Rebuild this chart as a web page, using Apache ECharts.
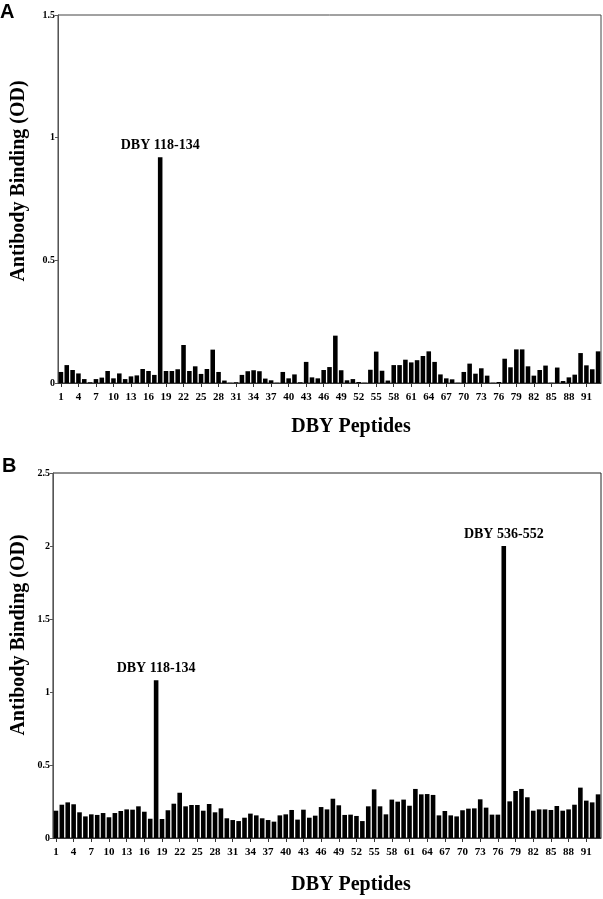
<!DOCTYPE html>
<html>
<head>
<meta charset="utf-8">
<script src="https://cdn.jsdelivr.net/npm/echarts@6/dist/echarts.min.js"></script>
<style>
html,body{margin:0;padding:0;background:#fff;}
#chart{width:603px;height:899px;}
</style>
</head>
<body>
<div id="chart"></div>
<script>
// Peptide numbers 1..93
var categories = [];
for (var i = 1; i <= 93; i++) categories.push(String(i));

// Panel A values (OD)
var valuesA = [
  0.045,0.073,0.053,0.039,0.016,0.003,0.016,0.022,0.049,0.019,
  0.039,0.016,0.027,0.031,0.057,0.049,0.033,0.92,0.049,0.049,
  0.056,0.155,0.049,0.068,0.037,0.057,0.136,0.045,0.010,0.001,
  0.003,0.033,0.048,0.052,0.048,0.018,0.011,0.001,0.045,0.019,
  0.035,0.003,0.086,0.023,0.019,0.053,0.065,0.193,0.052,0.011,
  0.016,0.004,0.001,0.054,0.128,0.050,0.010,0.073,0.073,0.095,
  0.084,0.093,0.110,0.129,0.086,0.035,0.019,0.015,0.001,0.045,
  0.079,0.038,0.060,0.030,0.001,0.004,0.099,0.064,0.137,0.137,
  0.068,0.030,0.053,0.071,0.001,0.063,0.008,0.023,0.034,0.122,
  0.072,0.056,0.129
];

// Panel B values (OD)
var valuesB = [
  0.187,0.228,0.244,0.231,0.176,0.148,0.162,0.158,0.171,0.142,
  0.171,0.185,0.196,0.194,0.217,0.180,0.132,1.08,0.130,0.190,
  0.235,0.310,0.217,0.226,0.226,0.187,0.233,0.176,0.203,0.135,
  0.123,0.116,0.139,0.167,0.155,0.135,0.123,0.112,0.155,0.162,
  0.192,0.126,0.194,0.139,0.153,0.212,0.196,0.269,0.224,0.158,
  0.160,0.151,0.116,0.217,0.333,0.217,0.162,0.263,0.249,0.263,
  0.221,0.336,0.299,0.301,0.295,0.155,0.185,0.155,0.148,0.190,
  0.201,0.203,0.265,0.208,0.160,0.160,2.00,0.251,0.322,0.336,
  0.279,0.187,0.196,0.196,0.192,0.219,0.187,0.196,0.228,0.345,
  0.256,0.244,0.299
];

// Y-axis settings
var yMaxA = 1.5, yMaxB = 2.5, yStep = 0.5;

// Annotated peptides (peptide number, label)
var notesA = [{peptide: '18', text: 'DBY 118-134'}];
var notesB = [{peptide: '18', text: 'DBY 118-134'}, {peptide: '77', text: 'DBY 536-552'}];

var serif = '"Liberation Serif","DejaVu Serif",serif';
var sans = '"Liberation Sans",Arial,sans-serif';

function buildData(vals, notes) {
  return vals.map(function (v, i) {
    var note = notes.filter(function (n) { return n.peptide === categories[i]; })[0];
    if (!note) return v;
    return {
      value: v,
      label: {
        show: true, position: 'top', distance: 5,
        formatter: note.text,
        fontFamily: serif, fontWeight: 'bold', fontSize: 14, color: '#000'
      }
    };
  });
}

function xAxisCfg(gi) {
  return {
    type: 'category', gridIndex: gi, data: categories,
    axisLine: {show: true, lineStyle: {color: '#333', width: 1}},
    axisTick: {show: true, interval: 2, alignWithLabel: true, length: 4, lineStyle: {color: '#333'}},
    axisLabel: {interval: 2, fontFamily: serif, fontWeight: 'bold', fontSize: 11, color: '#000', margin: 9},
    splitLine: {show: false}
  };
}
function yAxisCfg(gi, max) {
  return {
    type: 'value', gridIndex: gi, min: 0, max: max, interval: yStep,
    axisLine: {show: true, lineStyle: {color: '#555', width: 1}},
    axisTick: {show: true, length: 3, lineStyle: {color: '#555'}},
    axisLabel: {fontFamily: serif, fontWeight: 'bold', fontSize: 10, color: '#000', margin: 3,
      formatter: function (v) { return String(v); }},
    splitLine: {show: false}
  };
}

var chart = echarts.init(document.getElementById('chart'));
chart.setOption({
  animation: false,
  backgroundColor: '#fff',
  grid: [
    {left: 58, top: 15, width: 543, height: 368, show: true, borderColor: '#444', borderWidth: 1},
    {left: 53, top: 473, width: 548, height: 365, show: true, borderColor: '#222', borderWidth: 1}
  ],
  xAxis: [xAxisCfg(0), xAxisCfg(1)],
  yAxis: [yAxisCfg(0, yMaxA), yAxisCfg(1, yMaxB)],
  series: [
    {type: 'bar', xAxisIndex: 0, yAxisIndex: 0, data: buildData(valuesA, notesA),
     itemStyle: {color: '#000'}, barCategoryGap: '22%'},
    {type: 'bar', xAxisIndex: 1, yAxisIndex: 1, data: buildData(valuesB, notesB),
     itemStyle: {color: '#000'}, barCategoryGap: '22%'}
  ],
  graphic: [
    {type: 'text', x: 0, y: 12, style: {text: 'A', fontFamily: sans, fontWeight: 'bold', fontSize: 20, fill: '#000', textAlign: 'left', textVerticalAlign: 'middle'}},
    {type: 'text', x: 2, y: 466, style: {text: 'B', fontFamily: sans, fontWeight: 'bold', fontSize: 20, fill: '#000', textAlign: 'left', textVerticalAlign: 'middle'}},
    {type: 'text', x: 19, y: 181, rotation: Math.PI / 2, style: {text: 'Antibody Binding (OD)', fontFamily: serif, fontWeight: 'bold', fontSize: 20, fill: '#000', textAlign: 'center', textVerticalAlign: 'middle'}},
    {type: 'text', x: 19, y: 635, rotation: Math.PI / 2, style: {text: 'Antibody Binding (OD)', fontFamily: serif, fontWeight: 'bold', fontSize: 20, fill: '#000', textAlign: 'center', textVerticalAlign: 'middle'}},
    {type: 'text', x: 351, y: 427, style: {text: 'DBY Peptides', fontFamily: serif, fontWeight: 'bold', fontSize: 20, fill: '#000', textAlign: 'center', textVerticalAlign: 'middle'}},
    {type: 'text', x: 351, y: 885, style: {text: 'DBY Peptides', fontFamily: serif, fontWeight: 'bold', fontSize: 20, fill: '#000', textAlign: 'center', textVerticalAlign: 'middle'}}
  ]
});
</script>
</body>
</html>
